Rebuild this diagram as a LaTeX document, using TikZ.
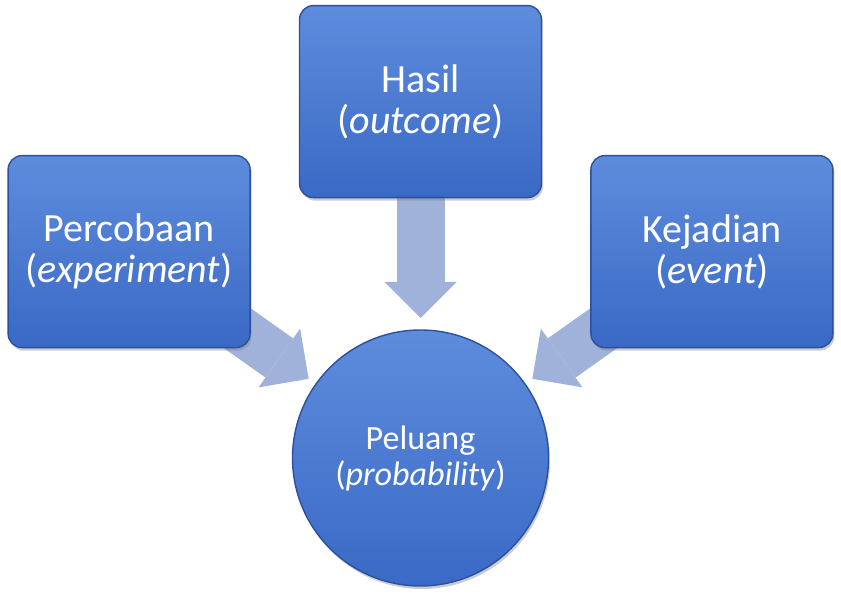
\documentclass[tikz,border=0pt]{standalone}
\usepackage{fontspec}
\setmainfont{Carlito}
\usepackage{xcolor}
\usetikzlibrary{arrows.meta,shadows,calc,backgrounds,positioning}
\definecolor{boxtop}{RGB}{94,140,220}
\definecolor{boxbottom}{RGB}{58,105,198}
\definecolor{boxedge}{RGB}{44,80,156}
\definecolor{flowfill}{RGB}{160,177,218}
\tikzset{
	topic/.style={draw=boxedge, line width=1.4pt, rounded corners=14pt, top color=boxtop, bottom color=boxbottom, text=white, align=center, minimum width=242pt, minimum height=192pt, inner sep=0pt, font=\fontsize{40}{41}\selectfont, drop shadow={opacity=0.4, shadow xshift=1.5pt, shadow yshift=-3pt}},
	goal/.style={circle, draw=boxedge, line width=1.4pt, top color=boxtop, bottom color=boxbottom, text=white, align=center, minimum size=256pt, inner sep=0pt, font=\fontsize{34}{36}\selectfont, drop shadow={opacity=0.4, shadow xshift=1.5pt, shadow yshift=-3pt}},
	flow/.style={draw=flowfill, line width=48pt, -{Triangle[length=36pt, width=72pt, line width=0pt]}}
}
\newcommand{\connecttopic}[3]{
	\draw[flow] (#1.center) -- ($(#2.center)!#3!(#1.center)$);
}
\begin{document}
\begin{tikzpicture}[x=1pt, y=1pt]
	\useasboundingbox (0,0) rectangle (841,600);
	\node[goal] (peluang) at (420.5,142) {Peluang\\(\textit{probability})};

	% the three topics round the goal
	\node[topic, above=131pt of peluang] (hasil) {Hasil\\(\textit{outcome})};
	\node[topic, left=48pt of hasil, yshift=-150pt] (percobaan) {Percobaan\\(\textit{experiment})};
	\node[topic, right=48pt of hasil, yshift=-150pt] (kejadian) {Kejadian\\(\textit{event})};

	% block arrows are drawn behind the shapes
	\begin{scope}[on background layer]
		\connecttopic{percobaan}{peluang}{137pt}
		\connecttopic{hasil}{peluang}{140pt}
		\connecttopic{kejadian}{peluang}{137pt}
	\end{scope}
\end{tikzpicture}
\end{document}
